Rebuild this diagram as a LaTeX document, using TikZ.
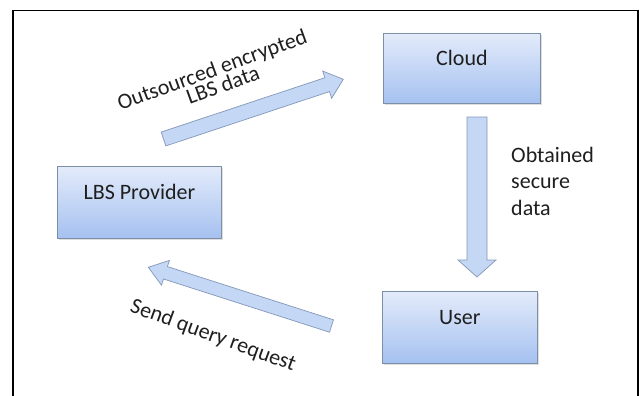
\documentclass[tikz,border=0pt]{standalone}
\usepackage{fontspec}
\setmainfont{Carlito}
\usetikzlibrary{calc,shadows}
\definecolor{boxtop}{HTML}{E3EBFA}
\definecolor{boxbot}{HTML}{A5C1F0}
\definecolor{boxline}{HTML}{7D8EA8}
\definecolor{arrfill}{HTML}{C4D7F5}
\definecolor{arrline}{HTML}{8397B8}
\definecolor{txt}{HTML}{1F1F1F}
\lineskiplimit=-100pt
\newcommand\blkarrow[5]{%
  \coordinate (hb) at ($(#2)!#5!(#1)$);
  \draw[blkarrow] ($(#1)!#3!90:(#2)$) -- ($(hb)!#3!90:(#2)$) -- ($(hb)!#4!90:(#2)$) -- (#2)
    -- ($(hb)!#4!-90:(#2)$) -- ($(hb)!#3!-90:(#2)$) -- ($(#1)!#3!-90:(#2)$) -- cycle;}
\begin{document}
\begin{tikzpicture}[x=1pt,y=-1pt,
  every node/.style={text=txt, font=\fontsize{22}{26.5}\selectfont},
  box/.style={draw=boxline, line width=0.8pt, top color=boxtop, bottom color=boxbot,
    inner sep=0pt, anchor=north west, text height=16pt, text depth=22pt,
    drop shadow={shadow xshift=1.2pt, shadow yshift=-1.5pt, opacity=0.25}},
  blkarrow/.style={draw=arrline, line width=0.7pt, fill=arrfill, line join=miter},
  lbl/.style={inner sep=0pt}]
\useasboundingbox (0,0) rectangle (643,396);
\fill[white] (0,0) rectangle (643,396);
\draw[line width=1.3pt, line join=miter] (13,397) -- (13,10.7) -- (638,10.7) -- (638,397);

\node[box, minimum width=157pt, minimum height=70pt] (cloud) at (383,33) {Cloud};
\node[box, minimum width=164pt, minimum height=72pt] (lbs) at (57,166) {LBS Provider};
\node[box, minimum width=155pt, minimum height=72pt] (user) at (382,291) {User};

\coordinate (a1s) at (163.5,139);
\coordinate (a1e) at (343.3,79.3);
\coordinate (a2s) at (331.5,326);
\coordinate (a2e) at (148.3,267.3);
\coordinate (a3s) at (477,117);
\coordinate (a3e) at (477,277);
\blkarrow{a1s}{a1e}{7.3pt}{14.3pt}{17pt}
\blkarrow{a2s}{a2e}{6.5pt}{13pt}{18pt}
\blkarrow{a3s}{a3e}{10pt}{19pt}{17pt}

\node[lbl, rotate=20, align=center, font=\fontsize{22}{18}\selectfont] (l1) at (215,78)
  {Outsourced encrypted\\ \hspace*{10pt}LBS data};
\node[lbl, rotate=-20] (l2) at (213,336) {Send query request};
\node[lbl, align=left, anchor=west] (l3) at (511,181) {Obtained\\secure\\data};
\end{tikzpicture}
\end{document}
